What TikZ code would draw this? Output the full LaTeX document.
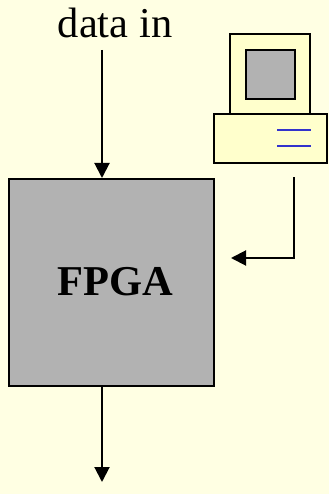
\documentclass[tikz,border=0pt]{standalone}
\usepackage{fontspec}
\setmainfont{Liberation Serif}
\usetikzlibrary{arrows.meta}
\definecolor{pagebg}{HTML}{FFFFE3}
\definecolor{boxcream}{HTML}{FFFFCC}
\definecolor{boxgray}{HTML}{B2B2B2}
\definecolor{linkblue}{HTML}{3333CC}
\tikzset{
  outline/.style={draw=black,line width=1.7pt,inner sep=0pt,outer sep=0pt,anchor=north west},
  thickoutline/.style={outline,line width=2pt},
  link/.style={draw=black,line width=2pt,-{Triangle[length=15pt,width=15pt]},shorten >=0pt},
  label/.style={inner sep=0pt,outer sep=0pt,anchor=base,font=\fontsize{42.5}{42.5}\selectfont},
  bluebar/.style={draw=linkblue,line width=1.8pt}
}
\begin{document}
\begin{tikzpicture}[x=1pt,y=-1pt]
\useasboundingbox[fill=pagebg] (0,0) rectangle (329,494);
\node[outline,fill=boxgray,minimum width=205.4pt,minimum height=207.4pt] (fpga) at (8.7,178.7) {};
\node[label,font=\fontsize{42.5}{42.5}\selectfont\bfseries] (fpgalabel) at (115,295) {FPGA};
\node[label] (datain) at (115,38) {data in};
\node[thickoutline,fill=boxcream,minimum width=80pt,minimum height=80pt] (monitor) at (230,34.3) {};
\node[thickoutline,fill=boxgray,minimum width=48.7pt,minimum height=48.7pt] (screen) at (246,50.3) {};
\node[thickoutline,fill=boxcream,minimum width=112.5pt,minimum height=48.5pt] (base) at (214,114.2) {};
\coordinate (barAl) at (277,130);
\coordinate (barAr) at (311,130);
\coordinate (barBl) at (277,146);
\coordinate (barBr) at (311,146);
\draw[bluebar] (barAl) -- (barAr);
\draw[bluebar] (barBl) -- (barBr);
\coordinate (instart) at (102,50);
\coordinate (intip) at (102,178);
\coordinate (outstart) at (102,386);
\coordinate (outtip) at (102,482);
\coordinate (pcstart) at (294,177.5);
\coordinate (pcbend) at (294,258);
\coordinate (pctip) at (231,258);
\draw[link] (instart) -- (intip);
\draw[link] (outstart) -- (outtip);
\draw[link] (pcstart) -- (pcbend) -- (pctip);
\end{tikzpicture}
\end{document}
